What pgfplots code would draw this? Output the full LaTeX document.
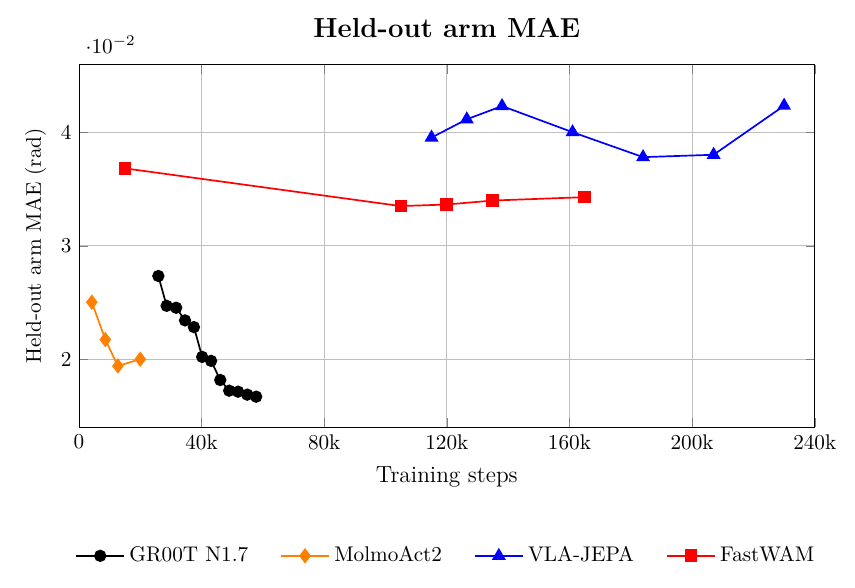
\documentclass[border=0pt]{standalone}
\usepackage{pgfplots}
\pgfplotsset{compat=1.18}
\begin{document}
\begin{tikzpicture}
\begin{axis}[
  scale only axis,
  width=347pt, height=171pt,
  xmin=0, xmax=240000,
  ymin=0.014, ymax=0.046,
  xtick={0,40000,80000,120000,160000,200000,240000},
  xticklabels={0,40k,80k,120k,160k,200k,240k},
  scaled x ticks=false,
  ytick={0.02,0.03,0.04},
  scaled y ticks=base 10:2,
  grid=major,
  title={\textbf{Held-out arm MAE}},
  title style={font=\fontsize{13}{15}\selectfont, yshift=3.3pt},
  xlabel={Training steps},
  xlabel style={font=\fontsize{11}{13}\selectfont, yshift=-1pt},
  ylabel={Held-out arm MAE (rad)},
  legend style={at={(0.5,-0.305)}, anchor=north, draw=none, legend columns=4,
    /tikz/every even column/.append style={column sep=13pt}},
  legend image code/.code={
    \draw[mark repeat=2,mark phase=2] plot coordinates {(0cm,0cm) (0.4cm,0cm) (0.8cm,0cm)};},
  every axis plot/.append style={thick},
]
\addplot[black, mark=*, mark size=2.5pt] coordinates {
(25900,0.02734) (28600,0.02471) (31700,0.02454) (34600,0.02342) (37500,0.02283)
(40200,0.02020) (43100,0.01985) (46100,0.01816) (49000,0.01722) (51900,0.01713)
(54900,0.01687) (57800,0.01669)};
\addlegendentry{GR00T N1.7}
\addplot[orange, mark=diamond*, mark size=3pt] coordinates {
(4200,0.02503) (8600,0.02173) (12700,0.01940) (20000,0.02000)};
\addlegendentry{MolmoAct2}
\addplot[blue, mark=triangle*, mark size=3pt] coordinates {
(115000,0.03956) (126500,0.04117) (138000,0.04234) (161000,0.04003)
(184000,0.03783) (207000,0.03804) (230000,0.04237)};
\addlegendentry{VLA-JEPA}
\addplot[red, mark=square*, mark size=2.6pt] coordinates {
(15000,0.03684) (105000,0.03351) (120000,0.03365) (135000,0.03400) (165000,0.03430)};
\addlegendentry{FastWAM}
\end{axis}
\path ([shift={(-8.5pt,-6.6pt)}]current bounding box.south west) rectangle ([shift={(5.5pt,5.1pt)}]current bounding box.north east);
\end{tikzpicture}
\end{document}
